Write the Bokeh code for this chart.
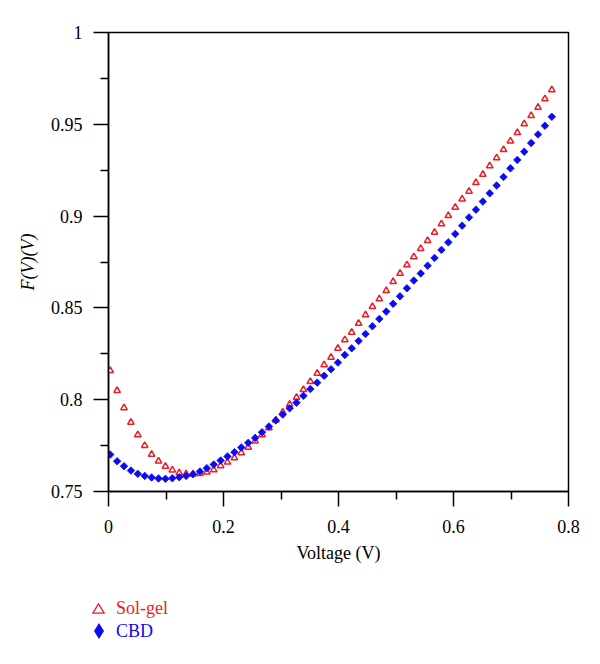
import math
from bokeh.plotting import figure
from bokeh.layouts import column
from bokeh.models import Range1d, FixedTicker, Div
from bokeh.embed import file_html
from bokeh.resources import INLINE

# ---- data ----
voltage = [0.003, 0.015, 0.027, 0.039, 0.051, 0.063, 0.075, 0.087, 0.099, 0.111,
           0.123, 0.135, 0.147, 0.159, 0.171, 0.183, 0.195, 0.207, 0.219, 0.231,
           0.243, 0.255, 0.267, 0.279, 0.291, 0.303, 0.315, 0.327, 0.339, 0.351,
           0.363, 0.375, 0.387, 0.399, 0.411, 0.423, 0.435, 0.447, 0.459, 0.471,
           0.483, 0.495, 0.507, 0.519, 0.531, 0.543, 0.555, 0.567, 0.579, 0.591,
           0.603, 0.615, 0.627, 0.639, 0.651, 0.663, 0.675, 0.687, 0.699, 0.711,
           0.723, 0.735, 0.747, 0.759, 0.771]

sol_gel = [0.8159, 0.8050, 0.7956, 0.7877, 0.7809, 0.7750, 0.7702, 0.7665, 0.7637, 0.7617,
           0.7601, 0.7596, 0.7594, 0.7598, 0.7606, 0.7618, 0.7640, 0.7660, 0.7683, 0.7711,
           0.7741, 0.7774, 0.7809, 0.7847, 0.7889, 0.7932, 0.7974, 0.8013, 0.8055, 0.8099,
           0.8144, 0.8190, 0.8231, 0.8280, 0.8326, 0.8367, 0.8416, 0.8462, 0.8507, 0.8549,
           0.8594, 0.8643, 0.8688, 0.8734, 0.8778, 0.8823, 0.8866, 0.8912, 0.8957, 0.9002,
           0.9048, 0.9093, 0.9135, 0.9182, 0.9227, 0.9273, 0.9317, 0.9362, 0.9409, 0.9454,
           0.9502, 0.9547, 0.9592, 0.9639, 0.9687]

cbd = [0.7701, 0.7665, 0.7638, 0.7614, 0.7596, 0.7585, 0.7576, 0.7571, 0.7569, 0.7572,
       0.7578, 0.7585, 0.7594, 0.7609, 0.7627, 0.7647, 0.7669, 0.7691, 0.7714, 0.7740,
       0.7765, 0.7792, 0.7823, 0.7854, 0.7887, 0.7919, 0.7953, 0.7984, 0.8021, 0.8058,
       0.8093, 0.8130, 0.8166, 0.8202, 0.8244, 0.8280, 0.8320, 0.8358, 0.8400, 0.8440,
       0.8480, 0.8522, 0.8563, 0.8607, 0.8649, 0.8688, 0.8730, 0.8772, 0.8816, 0.8857,
       0.8903, 0.8948, 0.8993, 0.9035, 0.9079, 0.9124, 0.9167, 0.9213, 0.9260, 0.9306,
       0.9351, 0.9398, 0.9445, 0.9492, 0.9541]

series_names = ["Sol-gel", "CBD"]

x_ticks = [0, 0.2, 0.4, 0.6, 0.8]
x_tick_labels = ["0", "0.2", "0.4", "0.6", "0.8"]
x_minor_ticks = [0.1, 0.3, 0.5, 0.7]
y_ticks = [0.75, 0.8, 0.85, 0.9, 0.95, 1.0]
y_tick_labels = ["0.75", "0.8", "0.85", "0.9", "0.95", "1"]
y_minor_ticks = [0.775, 0.825, 0.875, 0.925, 0.975]

x_title = "Voltage (V)"
y_title = "F(V)(V)"

# ---- style ----
RED = "#ec1c24"
BLUE = "#0a0af5"
FONT = "Liberation Serif"

p = figure(width=592, height=586,
           x_range=Range1d(0, 0.8), y_range=Range1d(0.75, 1.0),
           output_backend="svg", toolbar_location=None,
           min_border_left=108, min_border_right=24,
           min_border_top=32, min_border_bottom=95)
p.background_fill_color = "white"
p.border_fill_color = "white"
p.xgrid.visible = False
p.ygrid.visible = False
p.outline_line_color = "black"
p.outline_line_width = 1.5

p.xaxis.ticker = FixedTicker(ticks=x_ticks, minor_ticks=x_minor_ticks)
p.yaxis.ticker = FixedTicker(ticks=y_ticks, minor_ticks=y_minor_ticks)
p.xaxis.major_label_overrides = {t: l for t, l in zip(x_ticks, x_tick_labels)}
p.yaxis.major_label_overrides = {t: l for t, l in zip(y_ticks, y_tick_labels)}

for ax in (p.xaxis[0], p.yaxis[0]):
    ax.axis_line_width = 1.5
    ax.axis_line_color = "black"
    ax.major_tick_line_width = 1.5
    ax.minor_tick_line_width = 1.5
    ax.major_tick_in = 0
    ax.major_tick_out = 15
    ax.minor_tick_in = 0
    ax.minor_tick_out = 8
    ax.major_label_text_font = FONT
    ax.major_label_text_font_size = "18px"
    ax.major_label_text_color = "black"
    ax.axis_label_text_font = FONT
    ax.axis_label_text_font_size = "18px"
    ax.axis_label_text_color = "black"

p.xaxis.major_label_standoff = 13
p.yaxis.major_label_standoff = 11
p.xaxis.axis_label = x_title
p.xaxis.axis_label_text_font_style = "normal"
p.xaxis.axis_label_standoff = 7
p.yaxis.axis_label = y_title
p.yaxis.axis_label_text_font_style = "italic"
p.yaxis.axis_label_standoff = 10

# data markers
p.scatter(voltage, sol_gel, marker="triangle", size=6.5,
          fill_color="white", line_color=RED, line_width=1.5)
p.scatter(voltage, cbd, marker="square", angle=math.pi / 4, size=5.3,
          fill_color=BLUE, line_color=BLUE, line_width=0.8)

# ---- legend below the chart (HTML, real text) ----
c1, c2 = 22, 45  # vertical centres of the two legend rows inside the strip
legend_html = (
    f'<div style="position:relative;width:592px;height:70px;'
    f'font-family:\'{FONT}\',serif;font-size:18px;">'
    f'<svg style="position:absolute;left:92px;top:{c1 - 5.5}px" width="13" height="11">'
    f'<polygon points="6.5,0.8 12.2,10.2 0.8,10.2" fill="white" stroke="{RED}" '
    f'stroke-width="1.3"/></svg>'
    f'<span style="position:absolute;left:116px;top:{c1 - 11}px;line-height:22px;'
    f'white-space:nowrap;color:{RED}">{series_names[0]}</span>'
    f'<svg style="position:absolute;left:94px;top:{c2 - 8}px" width="10" height="16">'
    f'<polygon points="5,0 10,8 5,16 0,8" fill="{BLUE}"/></svg>'
    f'<span style="position:absolute;left:116px;top:{c2 - 11}px;line-height:22px;'
    f'white-space:nowrap;color:{BLUE}">{series_names[1]}</span>'
    f'</div>'
)
legend_div = Div(text=legend_html, width=592, height=70, margin=0)

layout = column(p, legend_div, spacing=0)
open("out.html", "w").write(file_html(layout, INLINE))
